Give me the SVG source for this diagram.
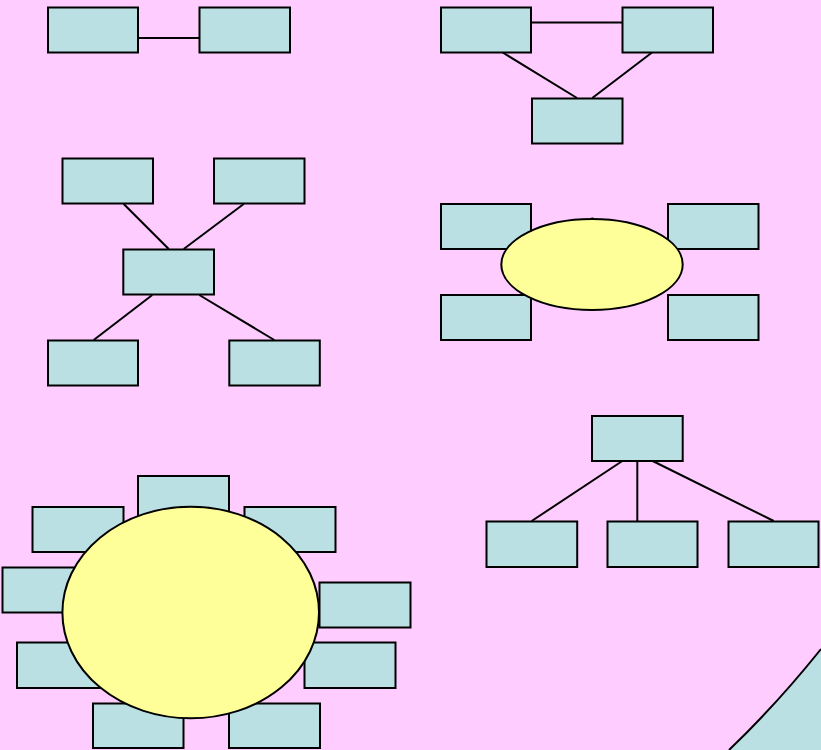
<svg xmlns="http://www.w3.org/2000/svg" width="821" height="750" viewBox="0 0 821 750">
<style>
.n{fill:#BBE0E3;stroke:#000;stroke-width:2}
.e{fill:#FFFF99;stroke:#000;stroke-width:2}
.c{stroke:#000;stroke-width:2;fill:none}
</style>
<rect x="0" y="0" width="821" height="750" fill="#FFCCFF"/>
<path d="M729,750 Q777,704 821,649 L821,750 Z" fill="#BBE0E3"/>
<path d="M729,750 Q777,704 821,649" class="c"/>
<g id="connectors">
<line class="c" x1="138" y1="38" x2="199" y2="38"/>
<line class="c" x1="531" y1="22.5" x2="622" y2="22.5"/>
<line class="c" x1="502.7" y1="52.5" x2="577" y2="98"/>
<line class="c" x1="652" y1="52.5" x2="592.3" y2="98"/>
<line class="c" x1="123.7" y1="204" x2="168.7" y2="249"/>
<line class="c" x1="243.7" y1="204" x2="183.7" y2="249"/>
<line class="c" x1="152.3" y1="295" x2="93.7" y2="340"/>
<line class="c" x1="199.3" y1="295" x2="274.3" y2="340"/>
<line class="c" x1="622.3" y1="461" x2="531.7" y2="521"/>
<line class="c" x1="637.3" y1="461" x2="637.3" y2="521"/>
<line class="c" x1="652.7" y1="461" x2="773.7" y2="521"/>
</g>
<g id="pair-a"><rect class="n" x="48" y="7.5" width="90" height="45"/></g>
<g id="pair-b"><rect class="n" x="199.5" y="7.5" width="90.5" height="45"/></g>
<g id="tri-a"><rect class="n" x="441" y="7.5" width="90" height="45"/></g>
<g id="tri-b"><rect class="n" x="622.5" y="7.5" width="90.5" height="45"/></g>
<g id="tri-c"><rect class="n" x="532" y="98.5" width="90.5" height="45"/></g>
<g id="x-tl"><rect class="n" x="62.5" y="158.5" width="90.5" height="45"/></g>
<g id="x-tr"><rect class="n" x="214" y="158.5" width="90.5" height="45"/></g>
<g id="x-c"><rect class="n" x="123.3" y="249.5" width="90.7" height="45"/></g>
<g id="x-bl"><rect class="n" x="48" y="340.5" width="90" height="45"/></g>
<g id="x-br"><rect class="n" x="229.3" y="340.5" width="90.5" height="45"/></g>
<g id="e-tl"><rect class="n" x="441" y="204" width="90" height="45"/></g>
<g id="e-tr"><rect class="n" x="668" y="204" width="90.5" height="45"/></g>
<g id="e-bl"><rect class="n" x="441" y="295" width="90" height="45"/></g>
<g id="e-br"><rect class="n" x="668" y="295" width="90.5" height="45"/></g>
<line class="c" x1="592.3" y1="217.5" x2="592.3" y2="220"/>
<g id="e-center"><ellipse class="e" cx="592" cy="264.5" rx="90.7" ry="45.5"/></g>
<g id="t-top"><rect class="n" x="592" y="416" width="90.7" height="45"/></g>
<g id="t-1"><rect class="n" x="486.5" y="521.5" width="90.7" height="45.5"/></g>
<g id="t-2"><rect class="n" x="607.5" y="521.5" width="90" height="45.5"/></g>
<g id="t-3"><rect class="n" x="728.5" y="521.5" width="90" height="45.5"/></g>
<g id="s-top"><rect class="n" x="138" y="476" width="91" height="45"/></g>
<g id="s-ul"><rect class="n" x="32.5" y="507" width="91" height="45"/></g>
<g id="s-ur"><rect class="n" x="244.5" y="507" width="91" height="45"/></g>
<g id="s-l"><rect class="n" x="2.5" y="567.5" width="91" height="45"/></g>
<g id="s-r"><rect class="n" x="319.5" y="582.5" width="91" height="45"/></g>
<g id="s-ll"><rect class="n" x="17" y="642.5" width="91" height="45.5"/></g>
<g id="s-lr"><rect class="n" x="304.5" y="642.5" width="91" height="45.5"/></g>
<g id="s-bl"><rect class="n" x="93" y="703.5" width="90.5" height="44.5"/></g>
<g id="s-br"><rect class="n" x="229" y="703.5" width="91" height="44.5"/></g>
<g id="s-center"><ellipse class="e" cx="190.7" cy="612.5" rx="128.3" ry="105.8"/></g>
</svg>
